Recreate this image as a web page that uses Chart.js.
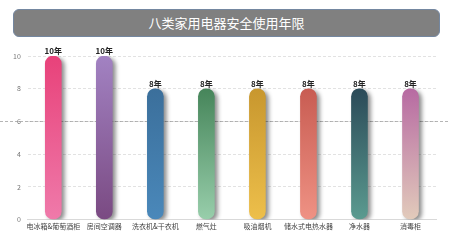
<!DOCTYPE html>
<html>
<head>
<meta charset="utf-8">
<script src="https://cdn.jsdelivr.net/npm/chart.js@4"></script>
<style>
  html, body { margin: 0; padding: 0; background: #fff; }
  #wrap { position: relative; width: 450px; height: 244px; }
  #title {
    position: absolute; left: 13px; top: 9px; width: 425px; height: 26px;
    background: #808080; border: 1px solid #7487a0; border-radius: 6px;
    color: #fff; font: 13px "Noto Sans CJK SC", sans-serif;
    text-align: center; line-height: 26px;
  }
</style>
</head>
<body>
<div id="wrap">
  <canvas id="chart" width="450" height="244"></canvas>
  <div id="title">八类家用电器安全使用年限</div>
</div>
<script>
const categories = ['电冰箱&葡萄酒柜', '房间空调器', '洗衣机&干衣机', '燃气灶', '吸油烟机', '储水式电热水器', '净水器', '消毒柜'];
const years = [10, 10, 8, 8, 8, 8, 8, 8];
const yTicks = [0, 2, 4, 6, 8, 10];
const topColors = ['#e8427a', '#a282c2', '#3b6f9b', '#46855a', '#c8972e', '#c85c52', '#2b4a58', '#b76aa2'];
const bottomColors = ['#ef7aaa', '#7a4a82', '#4a88ba', '#98ceab', '#edbf4b', '#ef9284', '#5b9b90', '#e2cbbb'];

function barGradient(context) {
    const chart = context.chart;
    const area = chart.chartArea;
    if (!area) return topColors[context.dataIndex];
    const y = chart.scales.y;
    const g = chart.ctx.createLinearGradient(0, y.getPixelForValue(years[context.dataIndex]), 0, area.bottom);
    g.addColorStop(0, topColors[context.dataIndex]);
    g.addColorStop(1, bottomColors[context.dataIndex]);
    return g;
}

// shadow behind the bars
const shadowPlugin = {
    id: 'barShadow',
    beforeDatasetsDraw(chart) {
        const ctx = chart.ctx;
        // dashed line across the whole width at 6
        const yp = chart.scales.y.getPixelForValue(6);
        ctx.save();
        ctx.strokeStyle = 'rgba(150,150,150,0.7)';
        ctx.lineWidth = 1;
        ctx.setLineDash([3, 2]);
        ctx.beginPath();
        ctx.moveTo(0, Math.round(yp) + 0.5);
        ctx.lineTo(chart.width, Math.round(yp) + 0.5);
        ctx.stroke();
        ctx.restore();

        ctx.save();
        ctx.shadowColor = 'rgba(0,0,0,0.45)';
        ctx.shadowBlur = 4;
        ctx.shadowOffsetX = 3;
        ctx.shadowOffsetY = 2;
    },
    afterDatasetsDraw(chart) {
        chart.ctx.restore();
        // value labels
        const ctx = chart.ctx;
        const meta = chart.getDatasetMeta(0);
        ctx.save();
        ctx.font = 'bold 8px "Noto Sans CJK SC", sans-serif';
        ctx.fillStyle = '#222';
        ctx.textAlign = 'center';
        ctx.textBaseline = 'bottom';
        meta.data.forEach((bar, i) => {
            ctx.fillText(years[i] + '年', bar.x, bar.y - 1);
        });
        ctx.restore();
    }
};

new Chart(document.getElementById('chart'), {
    type: 'bar',
    data: {
        labels: categories,
        datasets: [{
            data: years,
            backgroundColor: barGradient,
            barThickness: 16,
            borderRadius: 8,
            borderSkipped: false
        }]
    },
    options: {
        responsive: false,
        animation: false,
        layout: { padding: { top: 56, right: 14, left: 6, bottom: 10 } },
        scales: {
            x: {
                grid: { display: false, drawTicks: false },
                border: { display: true, color: '#d9d9d9' },
                ticks: {
                    color: '#444',
                    font: { size: 7, family: '"Noto Sans CJK SC", sans-serif' },
                    maxRotation: 0,
                    autoSkip: false,
                    padding: 3
                }
            },
            y: {
                min: 0,
                max: 10,
                afterBuildTicks: axis => { axis.ticks = yTicks.map(v => ({ value: v })); },
                grid: { color: '#e2e2e2', drawTicks: false },
                border: { display: false, dash: [3, 2] },
                ticks: {
                    color: '#777',
                    font: { size: 7, family: '"Noto Sans CJK SC", sans-serif' },
                    padding: 7
                }
            }
        },
        plugins: {
            legend: { display: false },
            tooltip: { enabled: false }
        }
    },
    plugins: [shadowPlugin]
});
</script>
</body>
</html>
